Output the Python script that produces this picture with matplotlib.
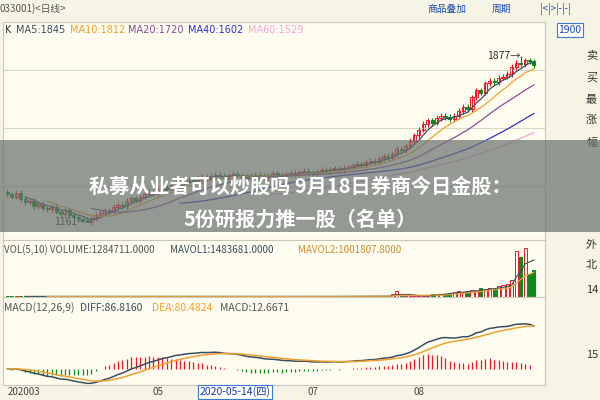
import matplotlib
matplotlib.use("Agg")
import matplotlib.pyplot as plt
import numpy as np
import pandas as pd

plt.rcParams['font.family'] = ['Noto Sans CJK SC', 'DejaVu Sans']

closes = [1280,1270,1285,1260,1245,1250,1230,1240,1220,1215,1225,1205,1195,1210,1190,1180,1175,1170,1161,
          1175,1190,1200,1210,1205,1225,1235,1230,1250,1262,1255,1270,1280,1290,1285,1300,1310,1305,1320,1330,1325,1335,1342,1338,1350,
          1355,1348,1360,1365,1358,1352,1360,1368,1362,1355,1350,1358,1365,1360,1355,1362,1370,1365,1360,1368,1372,1366,1375,1380,1374,1370,1378,1385,1380,1388,1392,1386,1395,1400,
          1405,1412,1408,1418,1425,1420,1435,1445,1440,1455,1478,1470,1490,1510,1535,1560,
          1585,1600,1590,1610,1620,1615,1605,1620,1640,1660,1650,1700,1730,1720,1760,
          1770,1765,1785,1790,1800,1830,1850,1845,1860,1855,1840]
volumes = [30,28,32,30,29,28,30,31,29,28,29,30,31,30,28,27,29,30,33,
           31,30,29,30,29,31,30,29,31,32,30,29,28,29,30,31,29,28,30,31,29,30,32,31,30,
           29,28,30,29,28,27,29,30,29,28,27,29,30,28,27,29,30,29,28,30,29,28,30,31,29,28,30,31,29,32,34,31,33,35,
           36,34,35,38,39,37,40,44,42,150,300,60,45,48,50,55,
           60,70,140,150,160,150,200,260,300,240,280,330,300,420,380,
           450,400,500,560,600,820,2200,1900,2300,1100,1280]
volumes = [v * 1000 for v in volumes]
high_label = 1877
low_label = 1161
month_ticks = [(0, "202003"), (34, "05"), (69, "07"), (93, "08")]

n = len(closes)
c = np.array(closes, float)
o = np.r_[c[0] + 10, c[:-1]]
h = np.maximum(o, c) + 12
l = np.minimum(o, c) - 12
h[116] = high_label
l[18] = low_label
s = pd.Series(c)
mas = {5: "#3a4e60", 10: "#f0a030", 20: "#8a4a9a", 40: "#3030d0", 60: "#f0a8d8"}
diff = s.ewm(span=12, adjust=False).mean() - s.ewm(span=26, adjust=False).mean()
dea = diff.ewm(span=9, adjust=False).mean()
hist = 2 * (diff - dea)

BG = "#fdfcee"
fig = plt.figure(figsize=(6, 4), dpi=100, facecolor="#f6f4e4")
def ax_px(x0, y0, x1, y1):
    return fig.add_axes([x0/600, 1-y1/400, (x1-x0)/600, (y1-y0)/400])

x = np.arange(n)
xl = (-1, 121.5)
up = c >= o
RED, GRN = "#e8192c", "#0a8a1a"

ax = ax_px(3, 22, 545, 240)
ax.set_facecolor(BG)
for i in range(n):
    col = RED if up[i] else GRN
    ax.vlines(i, l[i], h[i], color=col, lw=0.8)
    ax.bar(i, max(abs(c[i]-o[i]), 2), bottom=min(c[i], o[i]), width=0.7,
           facecolor=BG if up[i] else GRN, edgecolor=col, lw=0.7)
for p, col in mas.items():
    ax.plot(x, s.rolling(p).mean(), color=col, lw=0.9)
ax.set_xlim(*xl); ax.set_ylim(1082, 2026)
ax.set_yticks([1316, 1566, 1816]); ax.grid(axis='y', color="#d8d8c8", lw=0.8)
ax.set_xticks([]); ax.tick_params(length=0, labelleft=False)
ax.text(116, high_label, f"{high_label}→", ha='right', va='center', fontsize=7.5, color="#333")
ax.text(18, low_label, f"{low_label}—", ha='right', va='center', fontsize=7.5, color="#333")
lbls = [(5, "K", "#333"), (16, "MA5:1845", mas[5]), (70, "MA10:1812", mas[10]), (128, "MA20:1720", mas[20]),
        (188, "MA40:1602", mas[40]), (248, "MA60:1529", mas[60])]
for xp, t, col in lbls:
    fig.text(xp/600, 1-30/400, t, fontsize=7, color=col, va='center', family=['DejaVu Sans'])

axv = ax_px(3, 240, 545, 297)
axv.set_facecolor(BG)
axv.bar(x, volumes, width=0.7, color=[BG if u else GRN for u in up], edgecolor=[RED if u else GRN for u in up], lw=0.7)
vs = pd.Series(volumes, dtype=float)
axv.plot(x, vs.rolling(5).mean(), color="#3a4e60", lw=0.8)
axv.plot(x, vs.rolling(10).mean(), color="#f0a030", lw=0.8)
axv.set_xlim(*xl); axv.set_ylim(0, 2700000)
axv.set_xticks([]); axv.set_yticks([])
fig.text(4/600, 1-250/400, "VOL(5,10) VOLUME:1284711.0000 ", fontsize=7, color="#555", va='center')
fig.text(170/600, 1-250/400, "MAVOL1:1483681.0000 ", fontsize=7, color="#3a4e60", va='center')
fig.text(298/600, 1-250/400, "MAVOL2:1001807.8000", fontsize=7, color="#c89030", va='center')

axm = ax_px(3, 297, 545, 385)
axm.set_facecolor(BG)
axm.vlines(x, 0, hist, colors=[RED if v >= 0 else GRN for v in hist], lw=0.9)
axm.plot(x, diff, color="#3a4e60", lw=1.1)
axm.plot(x, dea, color="#f0a030", lw=1.1)
axm.set_xlim(*xl)
lo, hi = min(diff.min(), hist.min()), max(diff.max(), dea.max())
axm.set_ylim(lo - 3, hi + (hi - lo) * 0.45)
axm.set_xticks([]); axm.set_yticks([])
fig.text(4/600, 1-308/400, "MACD(12,26,9)", fontsize=7.5, color="#555", va='center')
fig.text(80/600, 1-308/400, "DIFF:86.8160", fontsize=7.5, color="#3a4e60", va='center')
fig.text(152/600, 1-308/400, "DEA:80.4824", fontsize=7.5, color="#f0a030", va='center')
fig.text(220/600, 1-308/400, "MACD:12.6671", fontsize=7.5, color="#555", va='center')

for a in (ax, axv, axm):
    for sp in a.spines.values():
        sp.set_color("#c8c8b8"); sp.set_linewidth(0.8)

for i, t in month_ticks:
    fig.text((3 + (i + 1) * 542 / 122.5) / 600, 1-392/400, t, fontsize=7, color="#444", va='center',
             ha='left' if i == 0 else 'center')
fig.text(235/600, 1-392/400, "2020-05-14(四)", fontsize=7.5, color="#1a3aa0", va='center', ha='center',
         bbox=dict(facecolor="white", edgecolor="#3a7ad0", boxstyle="square,pad=0.15", lw=0.8))

# header
fig.text(0, 1-9/400, "033001)<日线>", fontsize=7, color="#555", va='center')
for xp, t in [(447, "商品叠加"), (501, "周期"), (555, "|<|>|-|-|")]:
    fig.text(xp/600, 1-9/400, t, fontsize=7, color="#1a4ab0", va='center', ha='center')
fig.text(570/600, 1-30/400, "1900", fontsize=7.5, color="#1a4ab0", va='center', ha='center',
         bbox=dict(facecolor="white", edgecolor="#3a7ad0", boxstyle="square,pad=0.15", lw=0.8))
for yp, t in [(55, "卖"), (78, "买"), (100, "最"), (120, "涨"), (143, "幅"), (245, "外"), (265, "北"), (290, "14"), (355, "15")]:
    fig.text(586/600, 1-yp/400, t, fontsize=8, color="#333", va='center', ha='left')

# overlay band with title
fig.patches.append(plt.Rectangle((0, 1-232/400), 1, 92/400, transform=fig.transFigure,
                                 facecolor="#6c7470", alpha=0.72, zorder=10))
fig.text(0.5, 1-186/400, "私募从业者可以炒股吗 9月18日券商今日金股：", fontsize=14.5, color="white",
         weight='bold', ha='center', va='center', zorder=11)
fig.text(0.5, 1-219/400, "5份研报力推一股（名单）", fontsize=14.5, color="white",
         weight='bold', ha='center', va='center', zorder=11)

fig.savefig("out.png", dpi=100, facecolor=fig.get_facecolor())
